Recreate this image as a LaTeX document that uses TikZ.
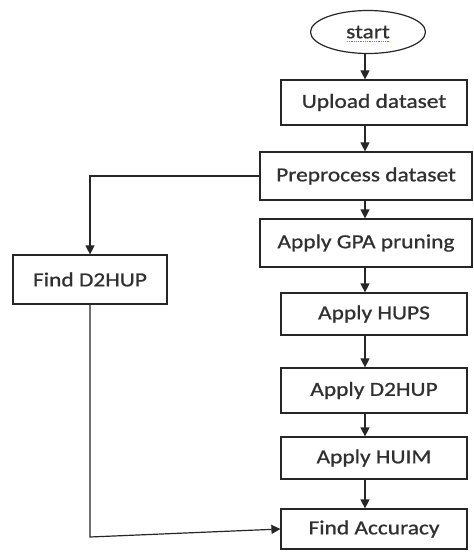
\documentclass[tikz,border=0pt]{standalone}
\usepackage{fontspec}
\setmainfont{Carlito}[FakeStretch=1.17,FakeBold=0.8]
\usetikzlibrary{arrows.meta,shapes.geometric}
\definecolor{ln}{HTML}{262626}
\definecolor{tx}{HTML}{303030}
\begin{document}
\begin{tikzpicture}[x=1pt,y=-1pt,
  box/.style={draw=ln,line width=1.2pt,rectangle,inner sep=0pt,text=tx,font=\fontsize{20}{22}\selectfont},
  oval/.style={draw=ln,line width=1.2pt,ellipse,inner sep=0pt,text=tx,font=\fontsize{20}{22}\selectfont},
  flow/.style={draw=ln,line width=1.2pt,-{Triangle[width=9pt,length=9pt]}}]
\useasboundingbox (0,0) rectangle (474,555);
\fill[white] (0,0) rectangle (474,555);
\node[oval,minimum width=115,minimum height=43] (start) at (368,32) {start};
\node[box,minimum width=186,minimum height=45] (up) at (374,102.5) {Upload dataset};
\node[box,minimum width=212,minimum height=48] (pre) at (366,176) {Preprocess dataset};
\node[box,minimum width=212,minimum height=48] (gpa) at (366,243) {Apply GPA pruning};
\node[box,minimum width=186,minimum height=42] (hups) at (374,314) {Apply HUPS};
\node[box,minimum width=186,minimum height=45] (d2) at (374,390.5) {Apply D2HUP};
\node[box,minimum width=186,minimum height=42] (huim) at (374,458) {Apply HUIM};
\node[box,minimum width=186,minimum height=40] (acc) at (374,529) {Find Accuracy};
\node[box,minimum width=154,minimum height=49] (fd) at (90,279.5) {Find D2HUP};
\draw[olive!70!green,densely dotted,line width=0.8pt] (347,41) -- (389,41);
\coordinate (ax) at (365,0);
\draw[flow] (start.south -| ax) -- (up.north -| ax);
\draw[flow] (up.south -| ax) -- (pre.north -| ax);
\draw[flow] (pre.south -| ax) -- (gpa.north -| ax);
\draw[flow] (gpa.south -| ax) -- (hups.north -| ax);
\draw[flow] (hups.south -| ax) -- (d2.north -| ax);
\draw[flow] (d2.south -| ax) -- (huim.north -| ax);
\draw[flow] (huim.south -| ax) -- (acc.north -| ax);
\draw[flow] (pre.west) -| (fd.north);
\coordinate (bend) at (90,537);
\draw[flow] (fd.south) -- (bend) -- (acc.west);
\end{tikzpicture}
\end{document}
